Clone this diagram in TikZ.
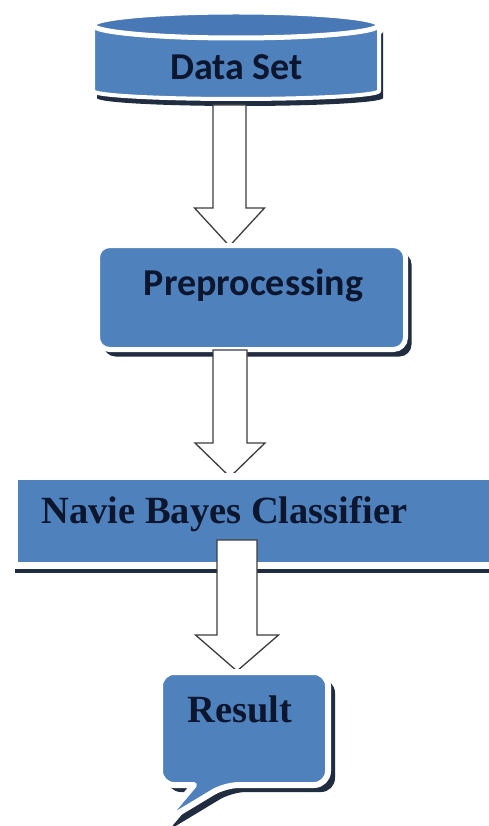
\documentclass[tikz,border=0pt]{standalone}
\usepackage{fontspec}
\setmainfont{Liberation Serif}
\newfontfamily\calibrifont{Carlito}
\usetikzlibrary{calc,shadows}

\definecolor{boxblue}{RGB}{79,129,189}
\definecolor{capblue}{RGB}{72,120,182}
\definecolor{shadowdark}{RGB}{32,44,64}
\definecolor{labelnavy}{RGB}{12,22,46}
\definecolor{arrowline}{RGB}{60,60,60}

\tikzset{
  glowbox/.style={fill=boxblue, draw=white, line width=5pt, line join=round},
  boxshadow/.style={drop shadow={shadow xshift=#1, shadow yshift=-7pt, fill=shadowdark, opacity=1, draw=none}},
  boxshadow/.default=6pt,
  sanslabel/.style={anchor=base, text=labelnavy, font=\calibrifont\bfseries\fontsize{38}{44}\selectfont},
  seriflabel/.style={anchor=base, text=labelnavy, font=\bfseries\fontsize{38.5}{44}\selectfont},
  hollowarrow/.style={fill=white, draw=arrowline, line width=1.3pt, line join=miter},
}

% start, tip, shaft half width, head half width, head length
\newcommand{\hollowarrow}[5]{%
  \draw[hollowarrow] ($(#1)+(-#3,0)$) -- ($(#1)+(#3,0)$) -- ($(#2)+(#3,-#5)$)
    -- ($(#2)+(#4,-#5)$) -- (#2) -- ($(#2)+(-#4,-#5)$) -- ($(#2)+(-#3,-#5)$) -- cycle;}

\begin{document}
\begin{tikzpicture}[x=1pt,y=-1pt]
  \useasboundingbox[fill=white] (0,0) rectangle (489,826);
  \clip (0,0) rectangle (489,826);

  % arrow ends
  \coordinate (arrow1 top) at (229.5,105);
  \coordinate (arrow1 tip) at (229.5,246);
  \coordinate (arrow2 top) at (230,350);
  \coordinate (arrow2 tip) at (230,477);
  \coordinate (arrow3 top) at (237,540);
  \coordinate (arrow3 tip) at (237,671);

  % data set cylinder
  \path[glowbox, line width=4pt, boxshadow=4pt] (93,25) -- (93,91)
    arc[start angle=180, end angle=0, x radius=143, y radius=8] -- (379,25)
    arc[start angle=0, end angle=180, x radius=143, y radius=13] -- cycle;
  \path[fill=capblue, draw=white, line width=5pt] (236,25) ellipse[x radius=143, y radius=13];
  \node[sanslabel] (dataset) at (236.5,80) {Data Set};

  \hollowarrow{arrow1 top}{arrow1 tip}{16.5}{35}{38}

  % preprocessing
  \node[glowbox, rounded corners=12pt, minimum width=308pt, minimum height=104pt,
    inner sep=0pt, boxshadow] (preproc) at (251.5,297.5) {};
  \node[sanslabel] (preproc label) at (253.5,295) {Preprocessing};

  \hollowarrow{arrow2 top}{arrow2 tip}{17}{35}{34}

  % classifier
  \node[glowbox, line width=7pt, minimum width=490pt, minimum height=89pt, inner sep=0pt,
    boxshadow=0pt] (classifier) at (259.5,521) {};
  \node[seriflabel, anchor=base west] (classifier label) at (38,523) {Navie Bayes Classifier};

  \hollowarrow{arrow3 top}{arrow3 tip}{20}{41.5}{36}

  % result callout
  \path[glowbox, line width=6pt, boxshadow=7pt] [rounded corners=14pt] (160,728) -- (160,672)
    -- (328,672) -- (328,785) -- (225,785) [sharp corners] -- (162,823) -- (194,785)
    [rounded corners=14pt] -- (160,785) -- cycle;
  \node[seriflabel] (result label) at (240,722) {Result};
\end{tikzpicture}
\end{document}
